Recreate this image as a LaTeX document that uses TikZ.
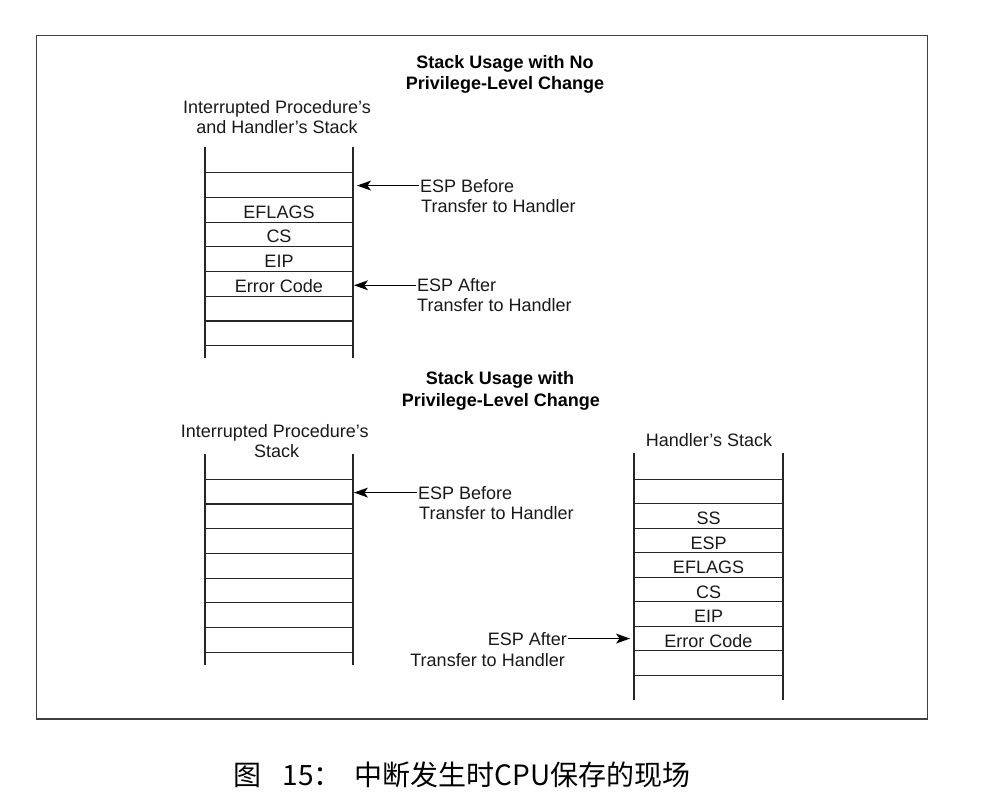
\documentclass[tikz,border=0pt]{standalone}
\usepackage{fontspec}
\setmainfont{Liberation Sans}
\newfontfamily\cjk{Noto Sans CJK SC}
\newcommand\tipL[1]{\fill[black] (#1) -- ++(14,-5) -- ++(-3.5,5) -- ++(3.5,5) -- cycle;}
\newcommand\tipR[1]{\fill[black] (#1) -- ++(-14,-5) -- ++(3.5,5) -- ++(-3.5,5) -- cycle;}
\begin{document}
\begin{tikzpicture}[x=1pt,y=-1pt,
  txt/.style={font=\fontsize{18}{20}\selectfont, inner sep=0pt, text=black!90},
  ttl/.style={font=\fontsize{18}{20}\selectfont\bfseries, inner sep=0pt, text=black},
  cell/.style={draw=black!85, line width=1.2pt, outer sep=0pt, inner sep=0pt,
    minimum width=148pt, minimum height=24.7pt, text height=17pt, text depth=0pt,
    font=\fontsize{18}{20}\selectfont, text=black!90},
  hcell/.style={cell, minimum width=149pt, minimum height=24.5pt},
  rail/.style={draw=black!85, line width=1.2pt},
  ptr/.style={draw=black, line width=1.2pt},
  frame/.style={draw=black!75, line width=1.4pt}]
\useasboundingbox (0,0) rectangle (998,800);
\draw[frame] (36.7,35.3) rectangle (927.7,719);

% ---------- top: no privilege-level change ----------
\node[ttl, anchor=base] (t1a) at (505,69) {Stack Usage with No};
\node[ttl, anchor=base] (t1b) at (505,89) {Privilege-Level Change};
\node[txt, anchor=base] (s1a) at (277,113) {Interrupted Procedure’s};
\node[txt, anchor=base] (s1b) at (277,133) {and Handler’s Stack};

\node[cell] (a1) at (279,185.05) {};
\node[cell, anchor=north] (a2) at (a1.south) {EFLAGS};
\node[cell, anchor=north] (a3) at (a2.south) {CS};
\node[cell, anchor=north] (a4) at (a3.south) {EIP};
\node[cell, anchor=north] (a5) at (a4.south) {Error Code};
\node[cell, anchor=north] (a6) at (a5.south) {};
\node[cell, anchor=north] (a7) at (a6.south) {};
\draw[rail] ([yshift=25.7pt]a1.north west) -- ([yshift=-12.4pt]a7.south west);
\draw[rail] ([yshift=25.7pt]a1.north east) -- ([yshift=-12.4pt]a7.south east);

\node[txt, anchor=base west] (l1) at (420,192) {ESP Before};
\node[txt, anchor=base west] (l1b) at (421,212) {Transfer to Handler};
\coordinate (e1) at ([xshift=4pt]l1.west -| a1.east);
\draw[ptr] ([xshift=-1pt]l1.west) -- ([xshift=10pt]e1);
\tipL{e1}

\node[txt, anchor=base west] (l2) at (417,291.7) {ESP After};
\node[txt, anchor=base west] (l2b) at (417,311) {Transfer to Handler};
\coordinate (e2) at ([xshift=1pt]l2.west -| a5.east);
\draw[ptr] ([xshift=-1pt]l2.west) -- ([xshift=10pt]e2);
\tipL{e2}

% ---------- bottom: with privilege-level change ----------
\node[ttl, anchor=base] (t2a) at (500,384) {Stack Usage with};
\node[ttl, anchor=base] (t2b) at (500.8,406) {Privilege-Level Change};
\node[txt, anchor=base] (s2a) at (274.7,437) {Interrupted Procedure’s};
\node[txt, anchor=base] (s2b) at (276.7,457.5) {Stack};

\node[cell] (b1) at (279,491.65) {};
\node[cell, anchor=north] (b2) at (b1.south) {};
\node[cell, anchor=north] (b3) at (b2.south) {};
\node[cell, anchor=north] (b4) at (b3.south) {};
\node[cell, anchor=north] (b5) at (b4.south) {};
\node[cell, anchor=north] (b6) at (b5.south) {};
\node[cell, anchor=north] (b7) at (b6.south) {};
\draw[rail] ([yshift=25.3pt]b1.north west) -- ([yshift=-12.8pt]b7.south west);
\draw[rail] ([yshift=25.3pt]b1.north east) -- ([yshift=-12.8pt]b7.south east);

\node[txt, anchor=base west] (l3) at (418,499) {ESP Before};
\node[txt, anchor=base west] (l3b) at (419,519) {Transfer to Handler};
\coordinate (e3) at ([xshift=1pt]l3.west -| b1.east);
\draw[ptr] ([xshift=-1pt]l3.west) -- ([xshift=10pt]e3);
\tipL{e3}

\node[txt, anchor=base] (s3) at (709,446.5) {Handler’s Stack};
\node[hcell] (c1) at (708.5,491.55) {};
\node[hcell, anchor=north] (c2) at (c1.south) {SS};
\node[hcell, anchor=north] (c3) at (c2.south) {ESP};
\node[hcell, anchor=north] (c4) at (c3.south) {EFLAGS};
\node[hcell, anchor=north] (c5) at (c4.south) {CS};
\node[hcell, anchor=north] (c6) at (c5.south) {EIP};
\node[hcell, anchor=north] (c7) at (c6.south) {Error Code};
\node[hcell, anchor=north] (c8) at (c7.south) {};
\draw[rail] ([yshift=26.3pt]c1.north west) -- ([yshift=-24.7pt]c8.south west);
\draw[rail] ([yshift=26.3pt]c1.north east) -- ([yshift=-24.7pt]c8.south east);

\node[txt, anchor=base east] (l4) at (567,645) {ESP After};
\node[txt, anchor=base east] (l4b) at (565,666.5) {Transfer to Handler};
\coordinate (e4) at ([xshift=-4pt]l4.east -| c7.west);
\draw[ptr] ([xshift=1pt]l4.east) -- ([xshift=-10pt]e4);
\tipR{e4}

% ---------- caption ----------
\node[font=\cjk\fontsize{28}{30}\selectfont, inner sep=0pt] (cap) at (462,775) {图\hspace{0.75em}15：\hspace{0.45em}中断发生时CPU保存的现场};
\end{tikzpicture}
\end{document}
